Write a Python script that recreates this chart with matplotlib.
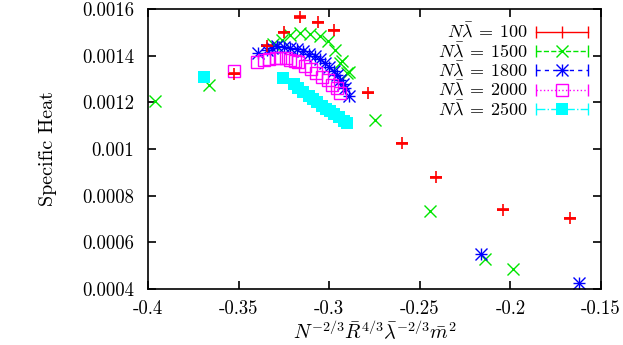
import matplotlib
matplotlib.use('Agg')
import matplotlib.pyplot as plt
from matplotlib.lines import Line2D
from matplotlib.legend_handler import HandlerLine2D

plt.rcParams['font.family'] = 'serif'
plt.rcParams['font.serif'] = ['cmr10']
plt.rcParams['mathtext.fontset'] = 'cm'
plt.rcParams['axes.formatter.use_mathtext'] = True
plt.rcParams['font.size'] = 12.5

# N*lambda = 100
x_100 = [-0.3523, -0.3344, -0.3252, -0.316, -0.3063, -0.2972, -0.2788, -0.2598, -0.2413, -0.2043, -0.1669]
y_100 = [0.001322, 0.001443, 0.0015, 0.001566, 0.001543, 0.001508, 0.001242, 0.001025, 0.000879, 0.000739, 0.000703]

# N*lambda = 1500
x_1500 = [-0.3964, -0.3661, -0.3308, -0.3261, -0.3215, -0.316, -0.3105, -0.305, -0.3004, -0.2967,
          -0.2939, -0.293, -0.2902, -0.2893, -0.2746, -0.2442, -0.2138, -0.1985]
y_1500 = [0.001204, 0.001274, 0.001452, 0.001469, 0.00149, 0.001498, 0.001495, 0.001483, 0.001461, 0.001426,
          0.001369, 0.001376, 0.001326, 0.001328, 0.001125, 0.000736, 0.000529, 0.000484]

# N*lambda = 1800
x_1800 = [-0.3391, -0.3345, -0.3315, -0.3289, -0.3252, -0.3215, -0.318, -0.3142, -0.311, -0.3077,
          -0.305, -0.3022, -0.3, -0.2976, -0.2958, -0.2939, -0.2925, -0.2912, -0.2893, -0.2162, -0.1619]
y_1800 = [0.001412, 0.001425, 0.001434, 0.00144, 0.001438, 0.001433, 0.001427, 0.001419, 0.001409, 0.001397,
          0.001384, 0.001369, 0.001352, 0.001333, 0.001316, 0.001297, 0.00128, 0.001261, 0.001228, 0.00055, 0.000424]

# N*lambda = 2000
x_2000 = [-0.3523, -0.3399, -0.336, -0.333, -0.3295, -0.3271, -0.324, -0.3215, -0.319, -0.317,
          -0.3133, -0.3101, -0.3072, -0.304, -0.3009, -0.2985, -0.2957, -0.2943]
y_2000 = [0.001333, 0.001371, 0.00138, 0.001386, 0.001389, 0.00139, 0.001388, 0.001383, 0.001377, 0.001371,
          0.001357, 0.001343, 0.001326, 0.001309, 0.001294, 0.001276, 0.001261, 0.00124]

# N*lambda = 2500
x_2500 = [-0.369, -0.3256, -0.3197, -0.317, -0.3142, -0.3114, -0.309, -0.3065, -0.3039, -0.3017,
          -0.2994, -0.2971, -0.2946, -0.2921, -0.2902]
y_2500 = [0.001308, 0.001304, 0.00128, 0.001261, 0.001243, 0.001228, 0.001214, 0.0012, 0.001185, 0.001171,
          0.001161, 0.00115, 0.001137, 0.001122, 0.001111]

labels = [r'$N\bar{\lambda}\:=\:100$', r'$N\bar{\lambda}\:=\:1500$', r'$N\bar{\lambda}\:=\:1800$',
          r'$N\bar{\lambda}\:=\:2000$', r'$N\bar{\lambda}\:=\:2500$']
xticks = [-0.4, -0.35, -0.3, -0.25, -0.2, -0.15]
xtick_labels = ['-0.4', '-0.35', '-0.3', '-0.25', '-0.2', '-0.15']
yticks = [0.0004, 0.0006, 0.0008, 0.001, 0.0012, 0.0014, 0.0016]
ytick_labels = ['0.0004', '0.0006', '0.0008', '0.001', '0.0012', '0.0014', '0.0016']

fig = plt.figure(figsize=(6.23, 3.45), dpi=100)
ax = fig.add_axes([0.2376, 0.1623, 0.7271, 0.8116])

red, green, blue, magenta, cyan = '#ff0000', '#00e600', '#0000ff', '#ff00ff', '#00ffff'

ax.errorbar(x_100, y_100, yerr=2.5e-6, fmt='+', color=red, ms=8, mew=1.2,
            capsize=4, elinewidth=1, capthick=1)
ax.plot(x_1500, y_1500, 'x', color=green, ms=8, mew=1)
for m in ['+', 'x']:
    ax.plot(x_1800, y_1800, m, color=blue, ms=8, mew=1)
ax.plot(x_2000, y_2000, 's', color=magenta, ms=8, mfc='none', mew=1)
ax.plot(x_2500, y_2500, 's', color=cyan, ms=8, mew=0)

ax.set_xlim(-0.4, -0.15)
ax.set_ylim(0.0004, 0.0016)
ax.set_xticks(xticks)
ax.set_xticklabels(xtick_labels)
ax.set_yticks(yticks)
ax.set_yticklabels(ytick_labels)
ax.tick_params(direction='in', length=6, width=1.2, top=True, right=True, labelsize=13.5)
ax.tick_params(axis='y', pad=10)
ax.tick_params(axis='x', pad=8)
for s in ax.spines.values():
    s.set_linewidth(1.2)

ax.set_ylabel('Specific Heat', fontsize=14.5)
ax.yaxis.set_label_coords(-0.2, 0.5)
ax.set_xlabel(r'$N^{-2/3}\bar{R}^{4/3}\bar{\lambda}^{-2/3}\bar{m}^2$', fontsize=14.5)
ax.xaxis.set_label_coords(0.5, -0.11)

# legend samples: line with end caps plus the point marker in the middle
styles = [(red, '-', ['|']), (green, '--', ['x']), (blue, (0, (3, 3)), ['+', 'x']),
          (magenta, ':', ['s']), (cyan, '-.', ['s'])]
handles = []
hmap = {}
for color, ls, marks in styles:
    cap = Line2D([], [], color=color, ls=ls, lw=1, marker='|', ms=8, mew=1)
    hmap[cap] = HandlerLine2D(numpoints=2, marker_pad=0)
    parts = [cap]
    for mk in marks:
        filled = color == cyan
        parts.append(Line2D([], [], color=color, ls='none', marker=mk, ms=8, mew=0 if filled else 1,
                            mfc=color if filled else 'none'))
    handles.append(tuple(parts))

ax.legend(handles, labels, handler_map=hmap, loc='upper right', frameon=False, markerfirst=False,
          handlelength=2.9, labelspacing=0.0, borderaxespad=0.3, handletextpad=0.45,
          fontsize=13, borderpad=0.4)

fig.savefig('out.png', dpi=100)
